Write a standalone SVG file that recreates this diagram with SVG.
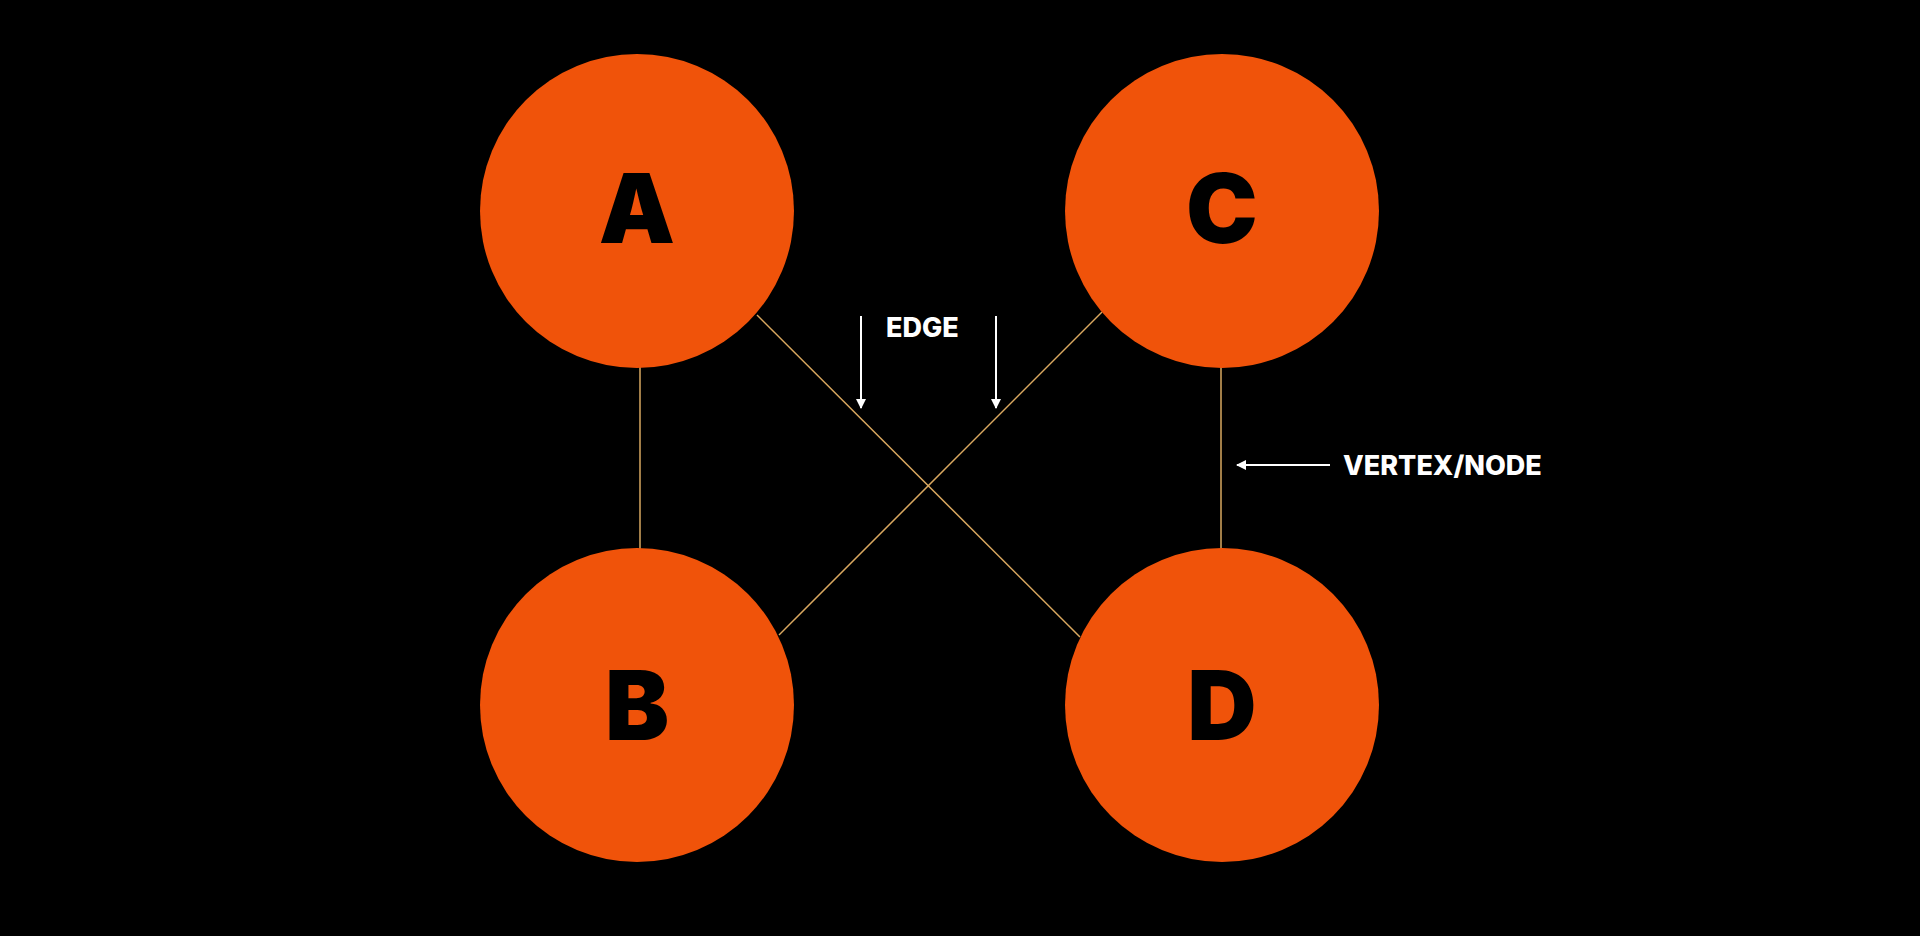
<svg xmlns="http://www.w3.org/2000/svg" width="1920" height="936" viewBox="0 0 1920 936">
<defs>
<style>
.n{fill:#F0530A}
.l{font-family:Inter,"Liberation Sans",sans-serif;font-weight:900;font-size:96px;fill:#000;text-anchor:middle}
.t{font-family:Inter,"Liberation Sans",sans-serif;font-weight:800;font-size:27px;fill:#fff}
.e{stroke:#D9A860;stroke-width:1.5;fill:none}
.a{stroke:#fff;stroke-width:2;fill:none}
</style>
<marker id="ar" viewBox="0 0 10 10" refX="9" refY="5" markerWidth="5" markerHeight="5" orient="auto"><path d="M0,0L10,5L0,10z" fill="#fff"/></marker>
</defs>
<rect width="1920" height="936" fill="#000"/>
<g id="connectors">
<line class="e" x1="640" y1="367" x2="640" y2="549"/>
<line class="e" x1="1221" y1="367" x2="1221" y2="549"/>
<line class="e" x1="757" y1="315" x2="1080" y2="637"/>
<line class="e" x1="1102" y1="312" x2="779" y2="635"/>
<line class="a" x1="861" y1="316" x2="861" y2="408" marker-end="url(#ar)"/>
<line class="a" x1="996" y1="316" x2="996" y2="408" marker-end="url(#ar)"/>
<line class="a" x1="1330" y1="465" x2="1237" y2="465" marker-end="url(#ar)"/>
</g>
<g id="A"><circle class="n" cx="637" cy="211" r="157"/><text class="l" x="637" y="243">A</text></g>
<g id="C"><circle class="n" cx="1222" cy="211" r="157"/><text class="l" x="1222" y="243">C</text></g>
<g id="B"><circle class="n" cx="637" cy="705" r="157"/><text class="l" x="637" y="740">B</text></g>
<g id="D"><circle class="n" cx="1222" cy="705" r="157"/><text class="l" x="1222" y="740">D</text></g>
<text class="t" x="886" y="337">EDGE</text>
<text class="t" x="1343" y="475">VERTEX/NODE</text>
</svg>
